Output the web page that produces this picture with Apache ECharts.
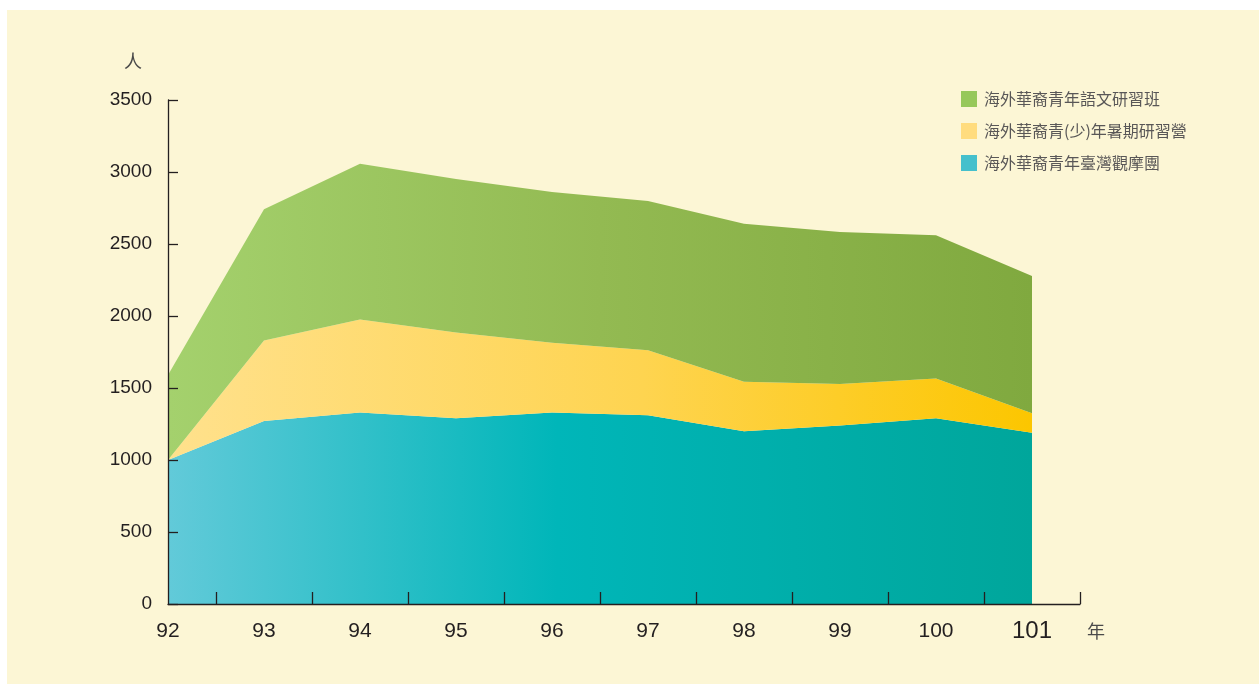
<!DOCTYPE html>
<html>
<head>
<meta charset="utf-8">
<script src="https://cdn.jsdelivr.net/npm/echarts@6/dist/echarts.min.js"></script>
<style>
  html, body { margin: 0; padding: 0; background: #ffffff; }
  #bg { position: absolute; left: 7px; top: 10px; right: 0; bottom: 0; background: #FCF6D5; }
  #chart { position: absolute; left: 0; top: 0; width: 1259px; height: 684px; }
</style>
</head>
<body>
<div id="bg"></div>
<div id="chart"></div>
<script>
// 年度 (民國)
const years = [92, 93, 94, 95, 96, 97, 98, 99, 100, 101];

// 各團隊人數 (由下而上堆疊)
const tourValues = [1000, 1270, 1330, 1290, 1330, 1310, 1200, 1240, 1290, 1190];
const campValues = [0, 560, 645, 595, 485, 452, 344, 288, 276, 134];
const langValues = [590, 911, 1083, 1066, 1046, 1037, 1097, 1055, 994, 954];

const seriesNames = ['海外華裔青年臺灣觀摩團', '海外華裔青(少)年暑期研習營', '海外華裔青年語文研習班'];

const yTicks = [0, 500, 1000, 1500, 2000, 2500, 3000, 3500];
const xTickPos = [92.5, 93.5, 94.5, 95.5, 96.5, 97.5, 98.5, 99.5, 100.5, 101.5];

const chart = echarts.init(document.getElementById('chart'));

const hGrad = (stops) => new echarts.graphic.LinearGradient(0, 0, 1, 0,
    stops.map(c => ({ offset: c[0], color: c[1] })));

const axisColor = '#231F20';
const font = '"Liberation Sans", Arial, "Noto Sans CJK TC", sans-serif';
const cjk = '"Noto Sans CJK TC", sans-serif';

// grid 0: 資料區 (92~101)，grid 1: 座標軸 (延伸到 101.5)
const option = {
    backgroundColor: 'transparent',
    animation: false,
    grid: [
        { left: 168, right: 227, top: 100, bottom: 80 },
        { left: 168, right: 179, top: 100, bottom: 80 }
    ],
    legend: {
        orient: 'vertical',
        left: 961,
        top: 91,
        padding: 0,
        itemWidth: 16,
        itemHeight: 16,
        itemGap: 16,
        icon: 'rect',
        textStyle: { fontSize: 16, color: '#595757', fontFamily: cjk, padding: [0, 0, 0, 2] },
        data: [
            { name: seriesNames[2], itemStyle: { color: '#97C85A' } },
            { name: seriesNames[1], itemStyle: { color: '#FFDC7E' } },
            { name: seriesNames[0], itemStyle: { color: '#45C0CC' } }
        ]
    },
    xAxis: [
        {
            gridIndex: 0,
            type: 'category',
            boundaryGap: false,
            data: years,
            show: false
        },
        {
            gridIndex: 1,
            type: 'value',
            min: 92,
            max: 101.5,
            z: 5,
            splitLine: { show: false },
            axisLine: { show: true, onZero: false, lineStyle: { color: axisColor, width: 1.3 } },
            axisTick: { show: true, inside: true, length: 12, customValues: xTickPos, lineStyle: { color: axisColor, width: 1.3 } },
            axisLabel: {
                customValues: years,
                margin: 27,
                verticalAlign: 'middle',
                color: axisColor,
                fontSize: 21,
                fontFamily: font,
                formatter: (v) => v === 101 ? '{b|101}' : String(v),
                rich: { b: { fontSize: 24, color: axisColor, fontFamily: font } }
            }
        }
    ],
    yAxis: [
        {
            gridIndex: 0,
            type: 'value',
            min: 0,
            max: 3500,
            show: false
        },
        {
            gridIndex: 1,
            type: 'value',
            min: 0,
            max: 3500,
            interval: 500,
            z: 5,
            splitLine: { show: false },
            axisLine: { show: true, lineStyle: { color: axisColor, width: 1.3 } },
            axisTick: { show: true, inside: true, length: 10, lineStyle: { color: axisColor, width: 1.3 } },
            axisLabel: {
                customValues: yTicks,
                margin: 16,
                color: axisColor,
                fontSize: 19,
                fontFamily: font,
                formatter: (v) => String(v)
            }
        }
    ],
    graphic: [
        { type: 'text', left: 124, top: 52, style: { text: '人', fontSize: 18, fill: '#4a4a4a', fontFamily: cjk } },
        { type: 'text', left: 1087, top: 622, style: { text: '年', fontSize: 18, fill: '#4a4a4a', fontFamily: cjk } }
    ],
    series: [
        {
            name: seriesNames[0],
            type: 'line',
            stack: 'total',
            xAxisIndex: 0,
            yAxisIndex: 0,
            data: tourValues,
            showSymbol: false,
            lineStyle: { width: 0 },
            itemStyle: { color: '#45C0CC' },
            areaStyle: { opacity: 1, color: hGrad([[0, '#62CAD9'], [0.45, '#00B6B9'], [1, '#00A69B']]) }
        },
        {
            name: seriesNames[1],
            type: 'line',
            stack: 'total',
            xAxisIndex: 0,
            yAxisIndex: 0,
            data: campValues,
            showSymbol: false,
            lineStyle: { width: 0 },
            itemStyle: { color: '#FFDC7E' },
            areaStyle: { opacity: 1, color: hGrad([[0, '#FFE18D'], [0.55, '#FED450'], [1, '#FCC600']]) }
        },
        {
            name: seriesNames[2],
            type: 'line',
            stack: 'total',
            xAxisIndex: 0,
            yAxisIndex: 0,
            data: langValues,
            showSymbol: false,
            lineStyle: { width: 0 },
            itemStyle: { color: '#97C85A' },
            areaStyle: { opacity: 1, color: hGrad([[0, '#A4D16D'], [0.5, '#93BA52'], [1, '#80A93F']]) }
        }
    ]
};

chart.setOption(option);
</script>
</body>
</html>
